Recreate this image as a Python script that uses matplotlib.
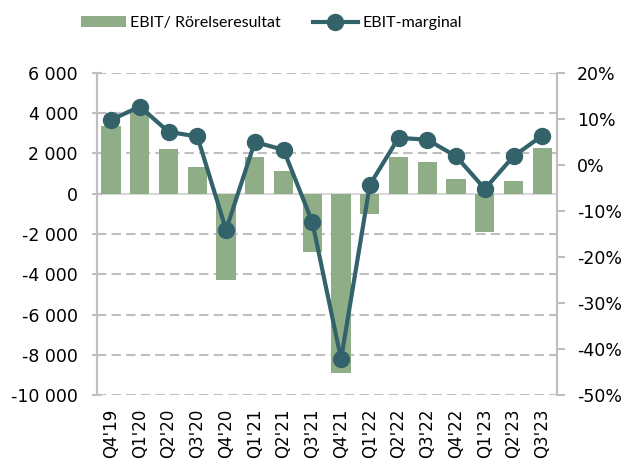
import numpy as np
import matplotlib
matplotlib.use("Agg")
import matplotlib.pyplot as plt
from matplotlib.ticker import FuncFormatter

plt.rcParams['font.family'] = ['Lato', 'DejaVu Sans']

# Data
quarters = ["Q4'19", "Q1'20", "Q2'20", "Q3'20", "Q4'20", "Q1'21", "Q2'21", "Q3'21",
            "Q4'21", "Q1'22", "Q2'22", "Q3'22", "Q4'22", "Q1'23", "Q2'23", "Q3'23"]
ebit = [3360, 4100, 2200, 1310, -4280, 1820, 1125, -2870,
        -8925, -1030, 1820, 1570, 750, -1925, 610, 2270]
margin = [9.8, 12.7, 7.2, 6.2, -14.1, 5.0, 3.3, -12.4,
          -42.2, -4.3, 5.9, 5.5, 1.9, -5.2, 1.9, 6.4]

bar_col = '#8fae88'
line_col = '#33626b'
grid_col = '#bfbfbf'
tick_font = 'DejaVu Sans'

fig = plt.figure(figsize=(6.24, 4.61), dpi=100)
ax = fig.add_axes([96.7/624, 66/461, 460/624, 322/461])
ax2 = ax.twinx()

x = np.arange(len(quarters))
bars = ax.bar(x, ebit, width=0.67, color=bar_col, zorder=2)
ln, = ax2.plot(x, margin, color=line_col, lw=3, marker='o', ms=11.5, zorder=3)

ax.set_xlim(-0.5, len(quarters) - 0.5)
ax.set_ylim(-10000, 6000)
ax.set_yticks(np.arange(-10000, 6001, 2000))
ax.yaxis.set_major_formatter(FuncFormatter(lambda v, p: f"{int(v):,}".replace(',', ' ')))
ax2.set_ylim(-50, 20)
ax2.set_yticks(np.arange(-50, 21, 10))
ax2.yaxis.set_major_formatter(FuncFormatter(lambda v, p: f"{int(v)}%"))

# dashed grid, solid zero line
for v in np.arange(-10000, 6001, 2000):
    if v == 0:
        ax.axhline(0, color='#d9d9d9', lw=1.5, zorder=1)
    else:
        ax.axhline(v, color=grid_col, lw=1.5, ls=(0, (4.5, 2.5)), zorder=1)

ax.set_xticks(x)
ax.set_xticklabels(quarters, rotation=90)
ax.tick_params(axis='x', length=0, pad=10, labelsize=12, labelfontfamily=tick_font)
ax.tick_params(axis='y', color=grid_col, length=7, width=1.5, direction='inout', pad=10,
               labelsize=12.5, labelfontfamily=tick_font)
ax2.tick_params(axis='y', color=grid_col, length=6, width=1.5, direction='out', pad=8.5,
                labelsize=12.5, labelfontfamily=tick_font)

ax2.set_zorder(ax.get_zorder() + 1)
ax2.patch.set_visible(False)

for a in (ax, ax2):
    a.spines['top'].set_visible(False)
    a.spines['bottom'].set_visible(False)
    a.spines['left'].set_color(grid_col)
    a.spines['right'].set_color(grid_col)
    a.spines['left'].set_linewidth(1.5)
    a.spines['right'].set_linewidth(1.5)

fig.legend([bars, ln], ['EBIT/ Rörelseresultat', 'EBIT-marginal'],
           loc='center', bbox_to_anchor=(0.435, 0.95), ncol=2,
           frameon=False, fontsize=11.5, handlelength=2.8, columnspacing=2.0,
           handletextpad=0.3)

fig.savefig('out.png', dpi=100)
